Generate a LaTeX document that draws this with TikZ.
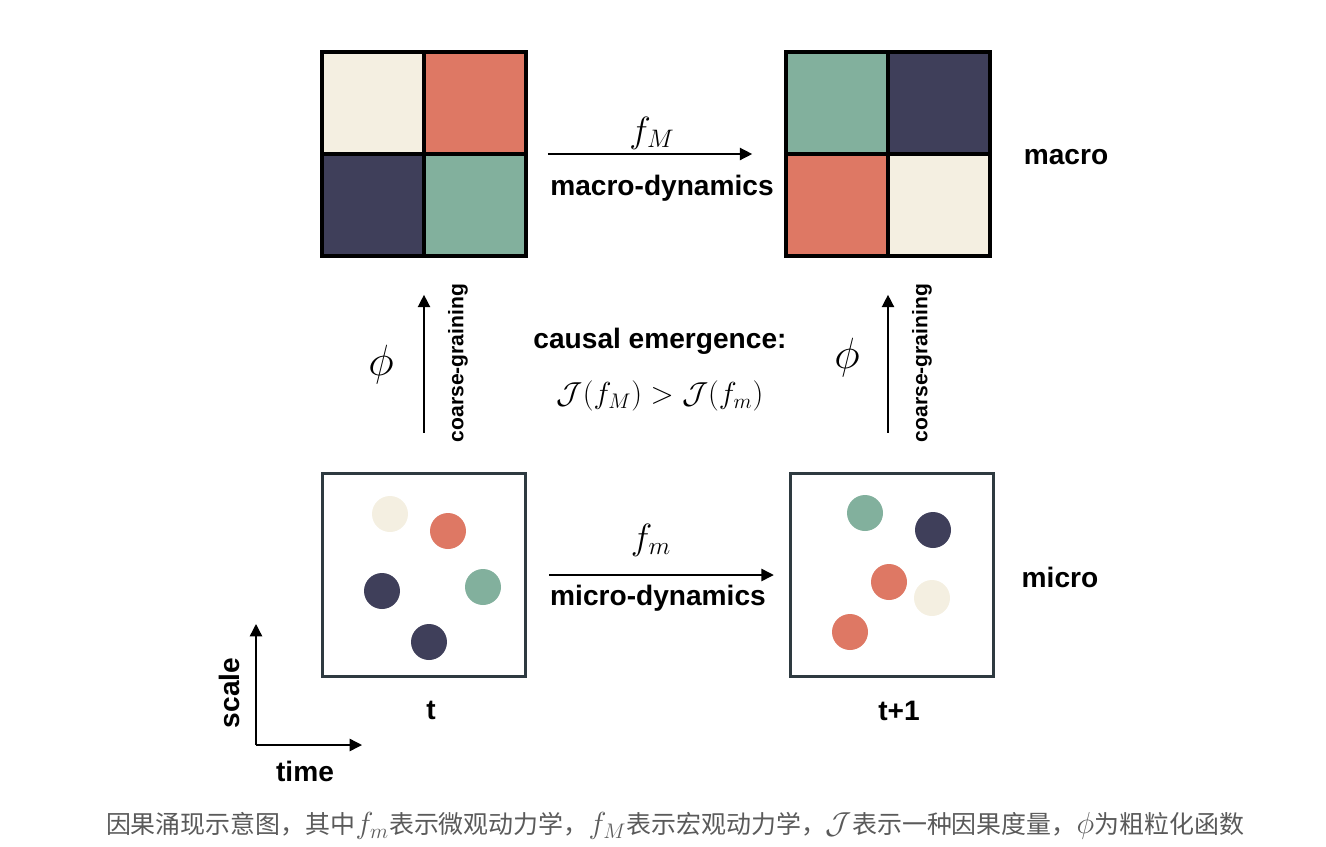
\documentclass[tikz,border=0pt]{standalone}
\usepackage{fontspec}
\setsansfont{Liberation Sans}
\newfontfamily\cjk{Noto Sans CJK SC}
\usetikzlibrary{arrows.meta}
\definecolor{cream}{HTML}{F4EFE1}
\definecolor{coral}{HTML}{DE7864}
\definecolor{navy}{HTML}{3F3F5A}
\definecolor{sage}{HTML}{82B09D}
\definecolor{frame}{HTML}{2E3A40}
\definecolor{capgray}{HTML}{5A5A5A}
\newcommand{\capmath}[1]{{\fontsize{18}{18}\selectfont$#1$}}
\tikzset{
  macrobox/.style={minimum size=4.06cm, inner sep=0pt},
  cellline/.style={line width=2pt, black},
  microbox/.style={draw=frame, line width=2pt, minimum size=4.06cm, inner sep=0pt},
  dyn/.style={-{Triangle[length=7pt,width=7pt]}, line width=0.8pt},
  lbl/.style={font=\sffamily\bfseries\fontsize{16}{19}\selectfont},
  sidelbl/.style={font=\sffamily\bfseries\fontsize{12}{14}\selectfont, rotate=90},
  mathlbl/.style={font=\fontsize{20}{24}\selectfont},
}
\begin{document}
\begin{tikzpicture}[x=0.02cm, y=-0.02cm]
\useasboundingbox (0,0) rectangle (1326,846);

% macro state at t
\node[macrobox] (MacroT) at (424,154) {};
\fill[cream] (MacroT.north west) rectangle (MacroT.center);
\fill[coral] (MacroT.north) rectangle (MacroT.east);
\fill[navy] (MacroT.west) rectangle (MacroT.south);
\fill[sage] (MacroT.center) rectangle (MacroT.south east);
\draw[cellline] (MacroT.north) -- (MacroT.south);
\draw[cellline] (MacroT.west) -- (MacroT.east);
\draw[cellline] (MacroT.north west) rectangle (MacroT.south east);

% macro state at t+1
\node[macrobox] (MacroTT) at (888,154) {};
\fill[sage] (MacroTT.north west) rectangle (MacroTT.center);
\fill[navy] (MacroTT.north) rectangle (MacroTT.east);
\fill[coral] (MacroTT.west) rectangle (MacroTT.south);
\fill[cream] (MacroTT.center) rectangle (MacroTT.south east);
\draw[cellline] (MacroTT.north) -- (MacroTT.south);
\draw[cellline] (MacroTT.west) -- (MacroTT.east);
\draw[cellline] (MacroTT.north west) rectangle (MacroTT.south east);

% micro states
\node[microbox] (MicroT) at (424,575) {};
\fill[cream] (390,514) circle[radius=0.36cm];
\fill[coral] (448,531) circle[radius=0.36cm];
\fill[navy] (382,591) circle[radius=0.36cm];
\fill[sage] (483,587) circle[radius=0.36cm];
\fill[navy] (429,642) circle[radius=0.36cm];

\node[microbox] (MicroTT) at (892,575) {};
\fill[sage] (865,513) circle[radius=0.36cm];
\fill[navy] (933,530) circle[radius=0.36cm];
\fill[coral] (889,582) circle[radius=0.36cm];
\fill[cream] (932,598) circle[radius=0.36cm];
\fill[coral] (850,632) circle[radius=0.36cm];

% dynamics
\draw[dyn, shorten <=0.44cm, shorten >=0.68cm] (MacroT) -- (MacroTT);
\node[mathlbl] (fM) at (652,133) {$f_M$};
\node[lbl] (macrodyn) at (662,188) {macro-dynamics};
\draw[dyn, shorten <=0.44cm, shorten >=0.3cm] (MicroT) -- (MicroTT);
\node[mathlbl] (fm) at (651,540) {$f_m$};
\node[lbl] (microdyn) at (658,598) {micro-dynamics};

% coarse-graining
\draw[dyn, shorten <=0.78cm, shorten >=0.78cm] (MicroT.north -| MacroT.south) -- (MacroT.south);
\node[mathlbl, font=\fontsize{23}{27}\selectfont] (phiT) at (381,365) {$\phi$};
\node[sidelbl] (cgT) at (458,363) {coarse-graining};
\draw[dyn, shorten <=0.78cm, shorten >=0.78cm] (MicroTT.north -| MacroTT.south) -- (MacroTT.south);
\node[mathlbl, font=\fontsize{23}{27}\selectfont] (phiTT) at (847,358) {$\phi$};
\node[sidelbl] (cgTT) at (922,363) {coarse-graining};

% side and bottom labels
\node[lbl] (macro) at (1066,157) {macro};
\node[lbl] (micro) at (1060,577) {micro};
\node[lbl] (t) at (431,710) {t};
\node[lbl] (tt) at (899,711) {t+1};
\node[lbl] (ce) at (660,341) {causal emergence:};
\node[font=\fontsize{16.5}{20}\selectfont] (ineq) at (660,396) {$\mathcal{J}(f_M) > \mathcal{J}(f_m)$};

% axes
\coordinate (origin) at (256,745);
\coordinate (scaleend) at (256,624);
\coordinate (timeend) at (362,745);
\draw[dyn] (origin) -- (scaleend);
\draw[dyn] (origin) -- (timeend);
\node[lbl, rotate=90] (scale) at (229,693) {scale};
\node[lbl] (time) at (305,771) {time};

% caption
\node[text=capgray, font=\cjk\fontsize{14.2}{18}\selectfont] (caption) at (675,826)
  {因果涌现示意图，其中\capmath{f_m}表示微观动力学，\capmath{f_M}表示宏观动力学，\capmath{\mathcal{J}}表示一种因果度量，\capmath{\phi}为粗粒化函数};
\end{tikzpicture}
\end{document}
